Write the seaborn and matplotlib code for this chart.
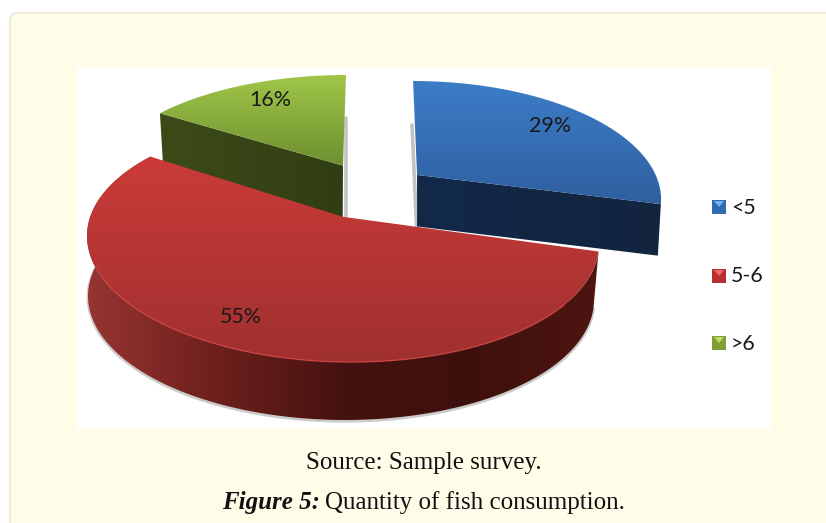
import numpy as np
import seaborn as sns
import matplotlib
matplotlib.use("Agg")
import matplotlib.pyplot as plt
from matplotlib.patches import FancyBboxPatch, Polygon, Rectangle

# Survey results
categories = ["<5", "5-6", ">6"]
shares = [29, 55, 16]
source_text = "Source: Sample survey."
figure_tag = "Figure 5:"
figure_title = "Quantity of fish consumption."

# Per-slice styling: (gradient of the top face), (gradient of the side wall)
top_colours = [["#3c7dc8", "#2f5f9f"], ["#cb3b38", "#a03030"], ["#a0c648", "#6e8f30"]]
wall_colours = [["#13294a", "#12243e"],
                ["#963431", "#6e201d", "#45120f", "#3e100d", "#4e1511"],
                ["#3d4a18", "#313e13"]]
icon_colours = ["#2f6db0", "#b83030", "#7f9f35"]
icon_light = ["#6fb4ee", "#ee6a66", "#bbdc68"]

# Projection frames: centre x, centre y, radius x, radius y, shear, roll
top_frames = [(418, 197, 243, 116, 0.0426, 0),
              (343, 240, 256, 122, 0.0, 4),
              (342.3, 187, 245.6, 112, -0.033, 0)]
low_frames = [(418, 248.5, 240, 116, 0.0426, 0),
              (341, 298, 253, 122, 0.0, 2),
              (342, 240, 241, 112, -0.033, 0)]
label_xy = [(550, 125.5), (241, 317), (270, 100)]
legend_y = [207, 276, 343]
TILT = -0.19

sns.set_theme(style="white")
fig = plt.figure(figsize=(8.26, 5.23), dpi=100, facecolor="white")
ax = fig.add_axes([0, 0, 1, 1])
ax.set_axis_off()


def project(theta, frame):
    """Map a clockwise-from-top pie angle onto a face seen in perspective."""
    cx, cy, rx, ry, shear, roll = frame
    u, v = np.sin(theta), -np.cos(theta)
    d = 1 + TILT * v
    x = u * np.sqrt(1 - TILT ** 2) / d
    y = (v + TILT) / d
    return np.column_stack([cx + rx * x + shear * y * ry, cy + ry * y + roll * x])


def pie_centre(frame):
    """Where the pie's centre lands on a perspective face."""
    cx, cy, rx, ry, shear, roll = frame
    return np.array([[cx + shear * TILT * ry, cy + TILT * ry]])


def shade(points, colours, horizontal=False, z=2):
    """Fill a polygon with a linear gradient built from a seaborn palette."""
    points = np.asarray(points)
    ramp = np.array(sns.blend_palette(colours, n_colors=256))
    img = ramp[np.newaxis, :, :] if horizontal else ramp[:, np.newaxis, :]
    x0, y0 = points.min(axis=0)
    x1, y1 = points.max(axis=0)
    im = ax.imshow(img, extent=(x0, x1, y1, y0), aspect="auto", zorder=z, interpolation="bilinear")
    im.set_clip_path(Polygon(points, closed=True, transform=ax.transData))


# Page card and white plot panel
ax.add_patch(FancyBboxPatch((16, 19), 830, 530, boxstyle="round,pad=6,rounding_size=8",
                            fc="#fffce8", ec="#eeebdf", lw=1.6, zorder=0))
ax.add_patch(Rectangle((77, 68), 694, 360, fc="white", ec="none", zorder=1))

# Slice angles follow the shares, clockwise from twelve o'clock
edges = np.deg2rad(np.cumsum([0] + shares) * 3.6)
spans = [np.linspace(edges[i], edges[i + 1], 160) for i in range(len(shares))]

# Green slice
arc = project(spans[2], top_frames[2])
left_top = project(edges[2:3], top_frames[2])
left_low = project(edges[2:3], low_frames[2])
ax.plot([345.5, 345.5], [118, 216], color="#b4b4b4", lw=2.6, alpha=0.8, zorder=1.5)
shade(np.vstack([left_top, pie_centre(top_frames[2]), pie_centre(low_frames[2]), left_low]),
      wall_colours[2], True, 2)
shade(np.vstack([pie_centre(top_frames[2]), arc]), top_colours[2], False, 3)

# Blue slice, pulled away from the others
arc = project(spans[0], top_frames[0])
right_top = project(edges[1:2], top_frames[0])
right_low = project(edges[1:2], low_frames[0])
ax.plot([412, 416.5], [125, 226], color="#b4b4b4", lw=2.6, alpha=0.8, zorder=1.5)
shade(np.vstack([pie_centre(top_frames[0]), right_top, right_low, pie_centre(low_frames[0])]),
      wall_colours[0], True, 4)
shade(np.vstack([pie_centre(top_frames[0]), arc]), top_colours[0], False, 5)

# Red slice: shadow, outer wall, then top face with its light rim
top_arc = project(spans[1], top_frames[1])
low_arc = project(spans[1], low_frames[1])
ax.plot(low_arc[:, 0], low_arc[:, 1] + 1.2, color="#8c8c8c", lw=2, alpha=0.45, zorder=5.5)
shade(np.vstack([top_arc, low_arc[::-1]]), wall_colours[1], True, 6)
shade(np.vstack([pie_centre(top_frames[1]), top_arc]), top_colours[1], False, 7)
ax.plot(top_arc[20:110, 0], top_arc[20:110, 1], color="#cf4440", lw=1.0, alpha=0.8, zorder=8)

# Value labels on the slices
for value, (x, y) in zip(shares, label_xy):
    ax.text(x, y, f"{value}%", ha="center", va="center", family="Lato",
            fontsize=15.4, color="#1a1a1a", zorder=10)

# Legend with glossy square keys
for name, y, base, light in zip(categories, legend_y, icon_colours, icon_light):
    ax.add_patch(Rectangle((712, y - 7), 14, 14, fc=base, ec="none", zorder=10))
    ax.add_patch(Polygon([(714, y - 6), (724, y - 6), (719, y)], closed=True,
                         fc=light, ec="none", zorder=11))
    ax.text(731, y + 0.5, name, ha="left", va="center", family="Lato", fontsize=15.4,
            color="#1a1a1a", zorder=10)

# Captions beneath the panel
ax.text(424, 463, source_text, ha="center", va="center", family="Liberation Serif",
        fontsize=18, color="#111111", zorder=10)
ax.text(222, 502.5, figure_tag, ha="left", va="center", family="Liberation Serif",
        style="italic", weight="bold", fontsize=18, color="#111111", zorder=10)
ax.text(325, 502.5, figure_title, ha="left", va="center", family="Liberation Serif",
        fontsize=18, color="#111111", zorder=10)

ax.set_xlim(0, 826)
ax.set_ylim(523, 0)
fig.savefig("out.png", dpi=100)
